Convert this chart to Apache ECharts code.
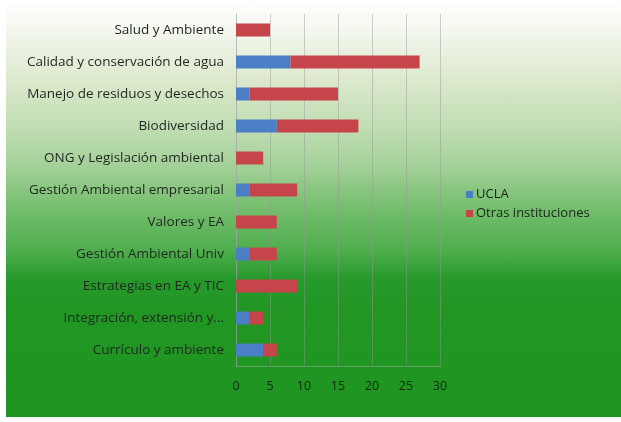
<!DOCTYPE html>
<html>
<head>
<meta charset="utf-8">
<script src="https://cdn.jsdelivr.net/npm/echarts@6/dist/echarts.min.js"></script>
<style>
html,body{margin:0;padding:0;background:#fff;}
#bg{position:absolute;left:6px;top:0;width:615px;height:417px;
background:linear-gradient(to bottom,#ffffff 0%,#f8f9f4 5%,#dbe8cb 20%,#bcdcb0 32%,#a2d097 40%,#74be6d 50%,#4fae4d 60%,#26992b 67%,#219623 75%,#1f9522 100%);}
#chart{position:absolute;left:0;top:0;width:621px;height:422px;}
</style>
</head>
<body>
<div id="bg"></div>
<div id="chart"></div>
<script>
const categories = [
  "Salud y Ambiente",
  "Calidad y conservación de agua",
  "Manejo de residuos y desechos",
  "Biodiversidad",
  "ONG y Legislación ambiental",
  "Gestión Ambiental empresarial",
  "Valores y EA",
  "Gestión Ambiental Univ",
  "Estrategias en EA y TIC",
  "Integración, extensión y...",
  "Currículo y ambiente"
];
const uclaValues = [0, 8, 2, 6, 0, 2, 0, 2, 0, 2, 4];
const otrasValues = [5, 19, 13, 12, 4, 7, 6, 4, 9, 2, 2];
const xTicks = [0, 5, 10, 15, 20, 25, 30];

const chart = echarts.init(document.getElementById('chart'), null, {renderer: 'canvas'});
const font = 'Open Sans';
chart.setOption({
  backgroundColor: 'transparent',
  animation: false,
  textStyle: {fontFamily: font},
  grid: {left: 236, top: 14, width: 204, height: 352, containLabel: false},
  legend: {
    orient: 'vertical',
    left: 461,
    top: 183,
    itemWidth: 7,
    itemHeight: 7,
    itemGap: 6,
    icon: 'rect',
    textStyle: {fontFamily: font, fontSize: 13, color: '#1a241a', padding: [0,0,0,-2]},
    data: ['UCLA', 'Otras instituciones']
  },
  xAxis: {
    type: 'value',
    min: xTicks[0],
    max: xTicks[xTicks.length - 1],
    interval: 5,
    axisLine: {show: true, lineStyle: {color: 'rgba(170,170,170,0.5)'}},
    axisTick: {show: false},
    axisLabel: {color: '#0f260f', fontSize: 12.5, fontFamily: font, margin: 14},
    splitLine: {show: true, lineStyle: {color: 'rgba(150,150,150,0.45)', width: 1}}
  },
  yAxis: {
    type: 'category',
    inverse: true,
    data: categories,
    axisLine: {show: true, lineStyle: {color: 'rgba(170,170,170,0.5)'}},
    axisTick: {show: false},
    axisLabel: {color: '#1f261f', fontSize: 13.5, fontFamily: font, margin: 12}
  },
  series: [
    {
      name: 'UCLA', type: 'bar', stack: 'total', data: uclaValues,
      barWidth: 13, itemStyle: {color: '#4a7fc6'}
    },
    {
      name: 'Otras instituciones', type: 'bar', stack: 'total', data: otrasValues,
      barWidth: 13, itemStyle: {color: '#c6454b'}
    }
  ]
});
</script>
</body>
</html>
